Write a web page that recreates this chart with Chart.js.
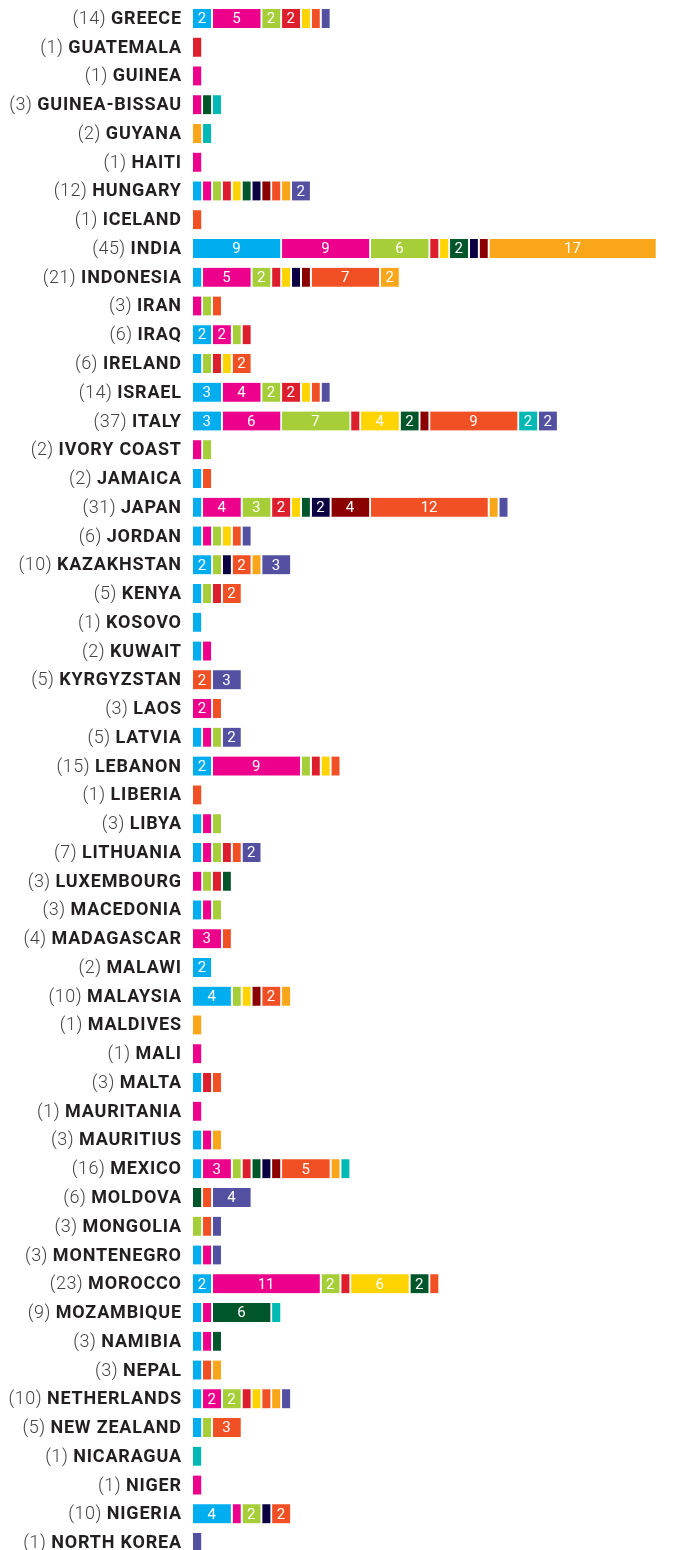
<!DOCTYPE html>
<html>
<head>
<meta charset="utf-8">
<script src="https://cdn.jsdelivr.net/npm/chart.js@4/dist/chart.umd.min.js"></script>
<style>
html,body{margin:0;padding:0;background:#fff;overflow:hidden;}
#wrap{width:687px;height:1557px;}
</style>
</head>
<body>
<div id="wrap"><canvas id="c" width="687" height="1557"></canvas></div>
<script>
const countries = ["GREECE","GUATEMALA","GUINEA","GUINEA-BISSAU","GUYANA","HAITI","HUNGARY","ICELAND","INDIA","INDONESIA",
"IRAN","IRAQ","IRELAND","ISRAEL","ITALY","IVORY COAST","JAMAICA","JAPAN","JORDAN","KAZAKHSTAN",
"KENYA","KOSOVO","KUWAIT","KYRGYZSTAN","LAOS","LATVIA","LEBANON","LIBERIA","LIBYA","LITHUANIA",
"LUXEMBOURG","MACEDONIA","MADAGASCAR","MALAWI","MALAYSIA","MALDIVES","MALI","MALTA","MAURITANIA","MAURITIUS",
"MEXICO","MOLDOVA","MONGOLIA","MONTENEGRO","MOROCCO","MOZAMBIQUE","NAMIBIA","NEPAL","NETHERLANDS","NEW ZEALAND",
"NICARAGUA","NIGER","NIGERIA","NORTH KOREA"];
const totals = [14,1,1,3,2,1,12,1,45,21, 3,6,6,14,37,2,2,31,6,10, 5,1,2,5,3,5,15,1,3,7, 3,3,4,2,10,1,1,3,1,3, 16,6,3,3,23,9,3,3,10,5, 1,1,10,1];

const blue      = [2,0,0,0,0,0,1,0,9,1, 0,2,1,3,3,0,1,1,1,2, 1,1,1,0,0,1,2,0,1,1, 0,1,0,2,4,0,0,1,0,1, 1,0,0,1,2,1,1,1,1,1, 0,0,4,0];
const magenta   = [5,0,1,1,0,1,1,0,9,5, 1,2,0,4,6,1,0,4,1,0, 0,0,1,0,2,1,9,0,1,1, 1,1,3,0,0,0,1,0,1,1, 3,0,0,1,11,1,1,0,2,0, 0,1,1,0];
const green     = [2,0,0,0,0,0,1,0,6,2, 1,1,1,2,7,1,0,3,1,1, 1,0,0,0,0,1,1,0,1,1, 1,1,0,0,1,0,0,0,0,0, 1,0,1,0,2,0,0,0,2,1, 0,0,2,0];
const red       = [2,1,0,0,0,0,1,0,1,1, 0,1,1,2,1,0,0,2,0,0, 1,0,0,0,0,0,1,0,0,1, 1,0,0,0,0,0,0,1,0,0, 1,0,0,0,1,0,0,0,1,0, 0,0,0,0];
const yellow    = [1,0,0,0,0,0,1,0,1,1, 0,0,1,1,4,0,0,1,1,0, 0,0,0,0,0,0,1,0,0,0, 0,0,0,0,1,0,0,0,0,0, 0,0,0,0,6,0,0,0,1,0, 0,0,0,0];
const darkGreen = [0,0,0,1,0,0,1,0,2,0, 0,0,0,0,2,0,0,1,0,0, 0,0,0,0,0,0,0,0,0,0, 1,0,0,0,0,0,0,0,0,0, 1,1,0,0,2,6,1,0,0,0, 0,0,0,0];
const navy      = [0,0,0,0,0,0,1,0,1,1, 0,0,0,0,0,0,0,2,0,1, 0,0,0,0,0,0,0,0,0,0, 0,0,0,0,0,0,0,0,0,0, 1,0,0,0,0,0,0,0,0,0, 0,0,1,0];
const darkRed   = [0,0,0,0,0,0,1,0,1,1, 0,0,0,0,1,0,0,4,0,0, 0,0,0,0,0,0,0,0,0,0, 0,0,0,0,1,0,0,0,0,0, 1,0,0,0,0,0,0,0,0,0, 0,0,0,0];
const orangeRed = [1,0,0,0,0,0,1,1,0,7, 1,0,2,1,9,0,1,12,1,2, 2,0,0,2,1,0,1,1,0,1, 0,0,1,0,2,0,0,1,0,0, 5,1,1,0,1,0,0,1,1,3, 0,0,2,0];
const orange    = [0,0,0,0,1,0,1,0,17,2, 0,0,0,0,0,0,0,1,0,1, 0,0,0,0,0,0,0,0,0,0, 0,0,0,0,1,1,0,0,0,1, 1,0,0,0,0,0,0,1,1,0, 0,0,0,0];
const teal      = [0,0,0,1,1,0,0,0,0,0, 0,0,0,0,2,0,0,0,0,0, 0,0,0,0,0,0,0,0,0,0, 0,0,0,0,0,0,0,0,0,0, 1,0,0,0,0,1,0,0,0,0, 1,0,0,0];
const purple    = [1,0,0,0,0,0,2,0,0,0, 0,0,0,1,2,0,0,1,1,3, 0,0,0,3,0,2,0,0,0,2, 0,0,0,0,0,0,0,0,0,0, 0,4,1,1,0,0,0,0,1,0, 0,0,0,1];

const seriesValues = [blue, magenta, green, red, yellow, darkGreen, navy, darkRed, orangeRed, orange, teal, purple];
const seriesColors = ["#00AEEF","#EC008C","#A6CE39","#DD1F2D","#FFD400","#00562B","#0A0042","#8B0000","#F15025","#F9A61B","#00B8B4","#5350A1"];

const datasets = seriesValues.map((vals, k) => ({
  data: vals.map(v => v === 0 ? null : v),
  backgroundColor: seriesColors[k],
  borderColor: "#ffffff",
  borderWidth: {left: 0, right: 2, top: 0, bottom: 0},
  borderSkipped: false,
  barThickness: 19,
  stack: "s"
}));

const labelPlugin = {
  id: "labels",
  afterDatasetsDraw(chart) {
    const ctx = chart.ctx;
    ctx.save();
    ctx.fillStyle = "#ffffff";
    ctx.font = "15px Roboto";
    ctx.textAlign = "center";
    ctx.textBaseline = "middle";
    chart.data.datasets.forEach((ds, di) => {
      const meta = chart.getDatasetMeta(di);
      meta.data.forEach((el, i) => {
        const v = ds.data[i];
        if (v && v >= 2) {
          const cx = (el.x + el.base) / 2 - 1;
          ctx.fillText(String(v), cx, el.y + 1);
        }
      });
    });
    ctx.restore();
  },
  afterDraw(chart) {
    const ctx = chart.ctx;
    const ys = chart.scales.y;
    const right = chart.chartArea.left - 12;
    ctx.save();
    ctx.textBaseline = "middle";
    ctx.textAlign = "left";
    countries.forEach((name, i) => {
      const y = ys.getPixelForValue(i) + 1;
      ctx.font = "bold 18px Roboto";
      ctx.letterSpacing = "0.8px";
      const wName = ctx.measureText(name).width - 0.8;
      ctx.fillStyle = "#231F20";
      ctx.fillText(name, right - wName, y);
      ctx.font = "300 18px Roboto";
      ctx.letterSpacing = "0.5px";
      const cnt = "(" + totals[i] + ") ";
      const wCnt = ctx.measureText(cnt).width;
      ctx.fillStyle = "#444444";
      ctx.fillText(cnt, right - wName - wCnt, y);
    });
    ctx.restore();
  }
};

new Chart(document.getElementById("c"), {
  type: "bar",
  data: { labels: countries, datasets },
  options: {
    indexAxis: "y",
    responsive: false,
    devicePixelRatio: 1,
    animation: false,
    layout: { padding: { left: 193, right: 0, top: 4, bottom: 0 } },
    plugins: { legend: { display: false }, tooltip: { enabled: false } },
    scales: {
      x: { type: "linear", stacked: true, min: 0, max: 50, display: false },
      y: { type: "category", stacked: true, display: false, offset: true }
    }
  },
  plugins: [labelPlugin]
});
</script>
</body>
</html>
